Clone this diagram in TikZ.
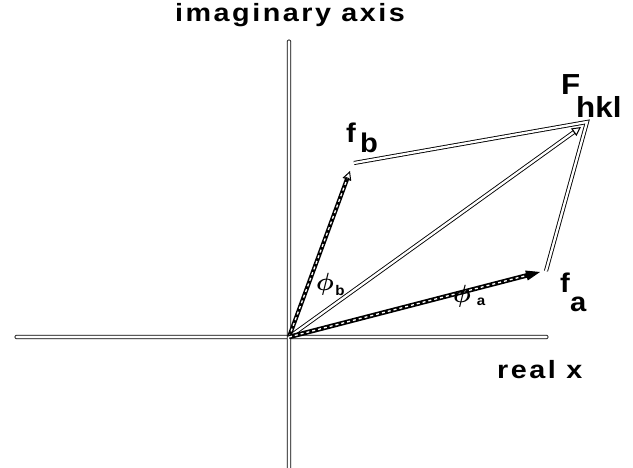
\documentclass[tikz,border=0pt]{standalone}
\usepackage{fontspec}
\usepackage{bm}
\newfontfamily\widefont{Liberation Sans Bold}[FakeStretch=1.15, LetterSpace=10]
\newfontfamily\tightfont{Liberation Sans Bold}[FakeStretch=1.08]
\usetikzlibrary{arrows.meta,calc}
\tikzset{
  axisbar/.style={draw=black, line width=0.8pt, fill=white, rounded corners=1.2pt},
  dbl/.style={draw=black, line width=0.9pt, double=white, double distance=2.3pt, line join=miter},
  hatchout/.style={draw=black, line width=4.6pt},
  hatchin/.style={draw=white, line width=1.3pt, dash pattern=on 3pt off 3pt},
  openhead/.style={line width=1pt, -{Triangle[open, length=9pt, width=9pt]}},
  fullhead/.style={line width=1pt, -{Triangle[length=14pt, width=10pt]}},
  lbl/.style={inner sep=0pt, anchor=base west},
  big/.style={font=\tightfont\fontsize{29}{29}\selectfont},
  mid/.style={font=\tightfont\fontsize{27}{27}\selectfont},
  axl/.style={font=\widefont\fontsize{25}{25}\selectfont},
  phil/.style={inner sep=0pt, font=\fontsize{30}{30}\selectfont},
  phis/.style={inner sep=0pt, font=\tightfont\fontsize{14}{14}\selectfont},
}
\begin{document}
\begin{tikzpicture}[x=1pt, y=-1pt]
\useasboundingbox (0,0) rectangle (633,468);
% key points
\coordinate (O) at (289,337);
\coordinate (B) at (350,171);
\coordinate (Bc) at (354,163);
\coordinate (A) at (540,272);
\coordinate (Ac) at (546,271);
\coordinate (F) at (587,122);
\coordinate (Ft) at (581,127);
% axes
\draw[axisbar] (15,335.2) rectangle (548,338.8);
\draw[axisbar] (287.2,40) rectangle (290.8,470);
% parallelogram sides
\draw[dbl] (Bc) -- (F) -- (Ac);
% resultant
\draw[dbl, shorten >=8pt] (O) -- (Ft);
\draw[openhead] ($(Ft)!9pt!(O)$) -- (Ft);
% f_b vector
\draw[hatchout, line width=4.2pt, shorten >=7pt] (O) -- (B);
\draw[hatchin, shorten >=8pt] (O) -- (B);
\draw[openhead] ($(B)!9pt!(O)$) -- (B);
% f_a vector
\draw[hatchout, shorten >=12pt] (O) -- (A);
\draw[hatchin, shorten >=13pt] (O) -- (A);
\draw[fullhead] ($(A)!14pt!(O)$) -- (A);
% labels
\node[lbl, axl] (ia) at (175,22) {imaginary axis};
\node[lbl, axl] (rx) at (497,378) {real x};
\node[lbl, big] (Fl) at (561,95) {F};
\node[lbl, big] (hkl) at (576,118) {hkl};
\node[lbl, mid] (fb) at (346,143) {f};
\node[lbl, mid] (fbs) at (360,153) {b};
\node[lbl, mid] (fa) at (560,293) {f};
\node[lbl, mid] (fas) at (570,312) {a};
\node[phil] (pb) at (325,284) {$\bm{\phi}$};
\node[phis] (pbs) at (340,290) {b};
\node[phil] (pa) at (462,296) {$\bm{\phi}$};
\node[phis] (pas) at (481,302) {a};
\end{tikzpicture}
\end{document}
